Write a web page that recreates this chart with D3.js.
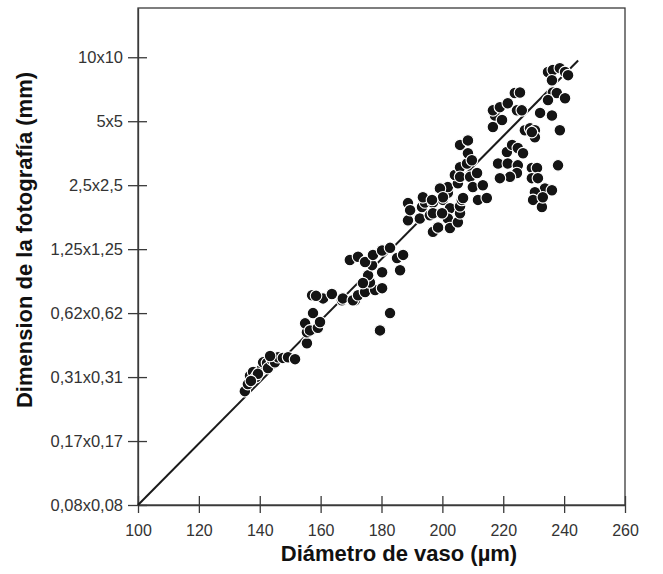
<!DOCTYPE html>
<html>
<head>
<meta charset="utf-8">
<script src="https://cdn.jsdelivr.net/npm/d3@7"></script>
<style>
  body { margin: 0; background: #fff; }
  svg text { font-family: "Liberation Sans", Arial, sans-serif; }
</style>
</head>
<body>
<div id="chart"></div>
<script>
// x = vessel diameter (µm), y = position on the photo-size axis (0 = 0,08x0,08 ... 7 = 10x10)
var sizeLabels = ["0,08x0,08", "0,17x0,17", "0,31x0,31", "0,62x0,62",
                  "1,25x1,25", "2,5x2,5", "5x5", "10x10"];
var xTicks = [100, 120, 140, 160, 180, 200, 220, 240, 260];

var diam = [
  135.1, 136.1, 136.8, 137.8, 138.8, 140.7, 141.1, 142.4, 142.7, 144.0, 145.0, 146.0, 147.6, 149.3, 151.6, 139.4, 137.1, 143.4,
  155.5, 155.5, 157.2, 160.8, 163.7, 158.5, 167.0, 171.3, 157.5, 154.9, 156.5, 159.1, 159.8,
  167.3, 170.6, 172.3, 174.6, 177.9, 180.2, 176.2, 175.6, 176.9, 180.2, 169.6, 172.3, 174.6, 177.2, 180.2, 182.8, 185.1, 187.1, 186.1, 182.8, 179.5, 173.9,
  188.7, 188.7, 189.4, 192.6, 193.3, 194.3, 196.9, 195.9, 196.9, 198.6, 196.9, 200.2, 199.9, 201.8, 201.8, 199.2, 202.5, 201.8, 202.5, 205.1, 205.8, 205.8, 206.4, 200.2, 193.6, 196.6, 205.1, 204.1, 205.8, 205.8, 208.1, 208.4, 205.8, 208.4, 209.1, 210.0, 211.7, 213.3, 214.6, 206.8, 199.9, 211.4, 209.7,
  221.2, 222.9, 224.8, 226.5, 218.3, 221.5, 224.8, 224.5, 222.2, 218.9, 229.4, 231.1, 229.4, 231.4, 233.7, 236.0, 230.4, 229.8, 232.7, 233.0, 238.0,
  216.6, 217.3, 216.6, 219.6, 218.9, 221.5, 223.8, 225.5, 224.5, 226.1, 227.1, 228.8, 230.4, 230.4, 232.1, 236.0, 238.6, 234.7, 236.3, 238.6, 240.3, 241.3, 236.0, 236.3, 237.6, 234.7, 240.3, 229.4
];
var sizeLevel = [
  1.78, 1.89, 2.02, 2.08, 2.00, 2.13, 2.23, 2.22, 2.14, 2.27, 2.23, 2.31, 2.30, 2.31, 2.28, 2.05, 1.94, 2.33,
  2.53, 2.70, 3.28, 3.23, 3.30, 3.27, 3.20, 3.20, 3.00, 2.84, 2.73, 2.77, 2.86,
  3.23, 3.20, 3.28, 3.33, 3.36, 3.39, 3.48, 3.59, 3.75, 3.64, 3.83, 3.88, 3.80, 3.91, 3.98, 4.02, 3.86, 3.91, 3.67, 3.00, 2.73, 3.47,
  4.72, 4.45, 4.61, 4.48, 4.66, 4.73, 4.73, 4.53, 4.27, 4.34, 4.56, 4.77, 4.92, 4.88, 4.97, 4.95, 4.64, 4.48, 4.33, 4.42, 4.56, 4.67, 4.77, 4.81, 4.81, 4.77, 5.03, 5.16, 5.28, 5.13, 5.34, 5.50, 5.63, 5.70, 5.13, 4.97, 4.77, 5.00, 4.80, 4.80, 4.56, 5.19, 5.39,
  5.52, 5.63, 5.58, 5.50, 5.34, 5.34, 5.31, 5.19, 5.13, 5.11, 5.27, 5.27, 5.11, 5.11, 4.95, 4.92, 4.89, 4.77, 4.66, 4.81, 5.31,
  5.91, 6.09, 6.17, 6.02, 6.22, 6.28, 6.44, 6.45, 6.17, 6.17, 5.86, 5.89, 5.86, 5.75, 6.13, 6.09, 5.86, 6.77, 6.80, 6.83, 6.77, 6.72, 6.64, 6.45, 6.44, 6.33, 6.36, 5.83
];
// regression line end points
var fitX = [100, 244.6];
var fitY = [0, 6.95];

function drawChart() {
    var W = 663, H = 574;
    var mLeft = 138, mRight = 625, mTop = 8, mBottom = 505;

    var svg = d3.select("#chart").append("svg")
        .attr("width", W)
        .attr("height", H);

    var x = d3.scaleLinear().domain([100, 260]).range([mLeft, mRight]);
    var y = d3.scaleLinear().domain([0, 7.77]).range([mBottom, mTop]);

    var axisColor = "#3a3a3a";

    // frame
    svg.append("rect")
        .attr("x", mLeft).attr("y", mTop)
        .attr("width", mRight - mLeft).attr("height", mBottom - mTop)
        .attr("fill", "none")
        .attr("stroke", axisColor)
        .attr("stroke-width", 1.3);

    var xAxis = svg.append("g")
        .attr("transform", "translate(0," + mBottom + ")")
        .call(d3.axisBottom(x).tickValues(xTicks).tickSizeOuter(0).tickPadding(14));
    xAxis.selectAll(".tick line").attr("y1", -9).attr("y2", 8);

    var yAxis = svg.append("g")
        .attr("transform", "translate(" + mLeft + ",0)")
        .call(d3.axisLeft(y).tickValues(d3.range(sizeLabels.length))
            .tickFormat(function(d) { return sizeLabels[d]; })
            .tickSizeOuter(0).tickPadding(9));
    yAxis.selectAll(".tick line").attr("x1", -10).attr("x2", 9);

    [xAxis, yAxis].forEach(function(g) {
        g.select(".domain").attr("stroke", axisColor).attr("stroke-width", 1.3);
        g.selectAll(".tick line").attr("stroke", axisColor).attr("stroke-width", 1.3);
        g.selectAll(".tick text")
            .attr("fill", "#333")
            .style("font-size", "16px");
    });
    yAxis.selectAll(".tick text").style("font-size", "16.5px");

    // fitted line
    svg.append("line")
        .attr("x1", x(fitX[0])).attr("y1", y(fitY[0]))
        .attr("x2", x(fitX[1])).attr("y2", y(fitY[1]))
        .attr("stroke", "#1a1a1a")
        .attr("stroke-width", 2);

    // points
    var pts = diam.map(function(d, i) { return [d, sizeLevel[i]]; });
    svg.append("g").selectAll("circle")
        .data(pts)
        .enter().append("circle")
        .attr("cx", function(d) { return x(d[0]); })
        .attr("cy", function(d) { return y(d[1]); })
        .attr("r", 5.8)
        .attr("fill", "#141414")
        .attr("stroke", "#fff")
        .attr("stroke-width", 1.1);

    // axis titles
    svg.append("text")
        .attr("x", 399)
        .attr("y", 561)
        .attr("text-anchor", "middle")
        .style("font-size", "22px")
        .style("font-weight", "bold")
        .attr("fill", "#111")
        .text("Diámetro de vaso (µm)");

    svg.append("text")
        .attr("transform", "translate(32,240) rotate(-90)")
        .attr("text-anchor", "middle")
        .style("font-size", "22px")
        .style("font-weight", "bold")
        .attr("fill", "#111")
        .text("Dimension de la fotografía (mm)");
}
drawChart();
</script>
</body>
</html>
